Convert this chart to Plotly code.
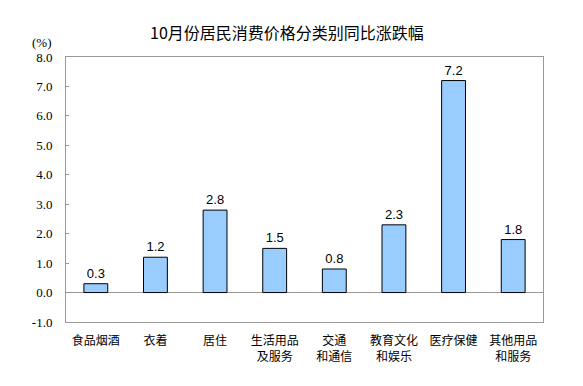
import plotly.graph_objects as go

categories = ["食品烟酒", "衣着", "居住", "生活用品<br>及服务", "交通<br>和通信", "教育文化<br>和娱乐", "医疗保健", "其他用品<br>和服务"]
values = [0.3, 1.2, 2.8, 1.5, 0.8, 2.3, 7.2, 1.8]
value_labels = ["0.3", "1.2", "2.8", "1.5", "0.8", "2.3", "7.2", "1.8"]
y_ticks = [-1, 0, 1, 2, 3, 4, 5, 6, 7, 8]
y_tick_labels = ["-1.0", "0.0", "1.0", "2.0", "3.0", "4.0", "5.0", "6.0", "7.0", "8.0"]

cjk = "Noto Sans CJK SC"
serif = "Liberation Serif, Times New Roman"

# page body has an 8px default margin, so the figure is sized 567x370
fig = go.Figure(go.Bar(
    x=categories, y=values,
    text=value_labels, textposition="outside",
    textfont=dict(family="Liberation Sans, Arial", size=13, color="black"),
    marker=dict(color="#99CCFF", line=dict(color="black", width=1)),
    width=0.4, cliponaxis=False,
))

fig.update_layout(
    width=567, height=370,
    margin=dict(l=58, r=32, t=49, b=56),
    paper_bgcolor="white", plot_bgcolor="white",
    showlegend=False,
    title=dict(text="10月份居民消费价格分类别同比涨跌幅", x=279 / 567, xref="container",
               xanchor="center", y=1 - 25 / 370, yref="container", yanchor="middle",
               font=dict(family=cjk, size=16, color="black")),
    xaxis=dict(showline=True, linecolor="#999999", linewidth=1, mirror=True,
               showgrid=False, ticks="", tickfont=dict(family=cjk, size=12, color="black"),
               ticklabelstandoff=8),
    yaxis=dict(range=[-1, 8], tickvals=y_ticks, ticktext=y_tick_labels,
               showline=True, linecolor="#999999", linewidth=1, mirror=True,
               showgrid=False, zeroline=True, zerolinecolor="#999999", zerolinewidth=1,
               ticks="inside", ticklen=3, tickcolor="#999999",
               tickfont=dict(family=serif, size=13, color="black"),
               ticklabelstandoff=10),
    annotations=[dict(text="(%)", xref="paper", yref="paper", x=-0.025, y=1.0,
                      xanchor="right", yanchor="middle", yshift=15, showarrow=False,
                      font=dict(family=serif, size=13, color="black"))],
)

fig.write_html("out.html")
